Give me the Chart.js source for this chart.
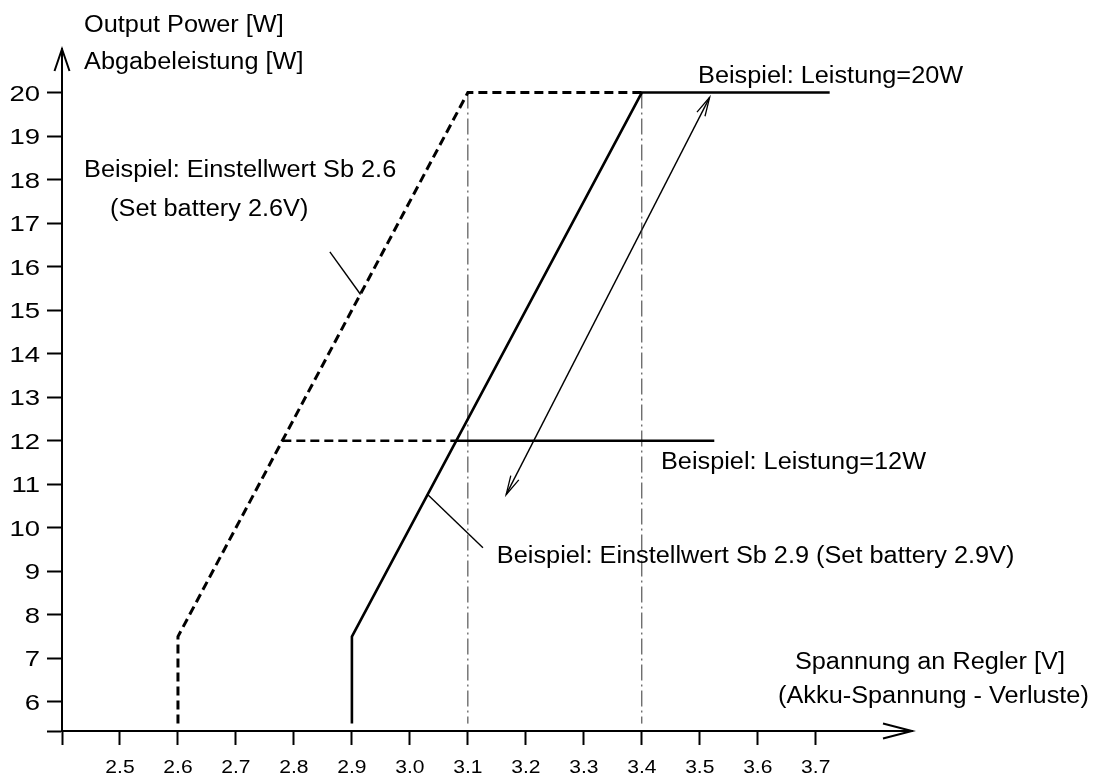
<!DOCTYPE html>
<html>
<head>
<meta charset="utf-8">
<script src="https://cdn.jsdelivr.net/npm/chart.js@4.4.1/dist/chart.umd.min.js"></script>
<style>
  html, body { margin: 0; padding: 0; background: #fff; }
  #wrap { width: 1101px; height: 776px; }
</style>
</head>
<body>
<div id="wrap"><canvas id="chart" width="1101" height="776"></canvas></div>
<script>
// axis ranges: voltage [V] and power [W]
const xMin = 2.4, xMax = 3.866;
const yMin = 5.33, yMax = 21.0;

const xTickValues = [2.5, 2.6, 2.7, 2.8, 2.9, 3.0, 3.1, 3.2, 3.3, 3.4, 3.5, 3.6, 3.7];
const xTickLabels = ["2.5", "2.6", "2.7", "2.8", "2.9", "3.0", "3.1", "3.2", "3.3", "3.4", "3.5", "3.6", "3.7"];
const yTickValues = [6, 7, 8, 9, 10, 11, 12, 13, 14, 15, 16, 17, 18, 19, 20];
const yTickLabels = ["6", "7", "8", "9", "10", "11", "12", "13", "14", "15", "16", "17", "18", "19", "20"];

// curve for setting Sb 2.6 (dashed)
const sb26Volt = [2.6, 2.6, 3.1, 3.4];
const sb26Watt = [5.5, 7.5, 20, 20];
// curve for setting Sb 2.9 (solid)
const sb29Volt = [2.9, 2.9, 3.4, 3.724];
const sb29Watt = [5.5, 7.5, 20, 20];
// example 12 W
const p12DashVolt = [2.78, 3.08];
const p12SolidVolt = [3.08, 3.525];
const p12Watt = [12, 12];
// dash-dot guides at 3.1 V and 3.4 V
const guideAVolt = [3.1, 3.1];
const guideBVolt = [3.4, 3.4];
const guideWatt = [20, 5.5];
// double arrow
const arrowVolt = [3.166, 3.517];
const arrowWatt = [10.76, 19.89];
// leader lines to the labels
const lead26Volt = [2.862, 2.915];
const lead26Watt = [16.34, 15.36];
const lead29Volt = [3.031, 3.126];
const lead29Watt = [10.76, 9.54];

// text notes, anchored in data units (left edge, baseline)
const notes = [
  ["Output Power [W]", 2.438, 21.38],
  ["Abgabeleistung [W]", 2.438, 20.53],
  ["Beispiel: Einstellwert Sb 2.6", 2.438, 18.05],
  ["(Set battery 2.6V)", 2.483, 17.17],
  ["Beispiel: Leistung=20W", 3.497, 20.23],
  ["Beispiel: Leistung=12W", 3.433, 11.36],
  ["Beispiel: Einstellwert Sb 2.9 (Set battery 2.9V)", 3.15, 9.2],
  ["Spannung an Regler [V]", 3.664, 6.76],
  ["(Akku-Spannung - Verluste)", 3.635, 5.98],
];

const pts = (xs, ys) => xs.map((v, i) => ({ x: v, y: ys[i] }));

function line(data, width, dash, color) {
  return {
    data,
    showLine: true,
    borderColor: color || "#000",
    borderWidth: width,
    borderDash: dash || [],
    pointRadius: 0,
    tension: 0,
    fill: false,
  };
}

function stretchText(ctx, s, px, py, size, sx, align) {
  ctx.save();
  ctx.translate(px, py);
  ctx.scale(sx, 1);
  ctx.font = size + "px 'Liberation Sans', Arial, sans-serif";
  ctx.textAlign = align || "left";
  ctx.textBaseline = "alphabetic";
  ctx.fillText(s, 0, 0);
  ctx.restore();
}

function arrowHead(ctx, tip, from, len, half) {
  const ang = Math.atan2(tip.y - from.y, tip.x - from.x);
  const bx = tip.x - len * Math.cos(ang), by = tip.y - len * Math.sin(ang);
  const nx = -Math.sin(ang) * half, ny = Math.cos(ang) * half;
  ctx.beginPath();
  ctx.moveTo(bx + nx, by + ny);
  ctx.lineTo(tip.x, tip.y);
  ctx.lineTo(bx - nx, by - ny);
  ctx.stroke();
}

const decor = {
  id: "decor",
  afterDraw(chart) {
    const { ctx, chartArea: a } = chart;
    const x = chart.scales.x, y = chart.scales.y;
    ctx.save();
    ctx.strokeStyle = "#000";
    ctx.fillStyle = "#000";

    // axis arrows
    ctx.lineWidth = 2;
    arrowHead(ctx, { x: a.left, y: a.top }, { x: a.left, y: a.bottom }, 22, 7.5);
    arrowHead(ctx, { x: a.right, y: a.bottom }, { x: a.left, y: a.bottom }, 29, 7.5);

    // double arrow heads
    ctx.lineWidth = 1.3;
    const p0 = { x: x.getPixelForValue(arrowVolt[0]), y: y.getPixelForValue(arrowWatt[0]) };
    const p1 = { x: x.getPixelForValue(arrowVolt[1]), y: y.getPixelForValue(arrowWatt[1]) };
    arrowHead(ctx, p0, p1, 19, 4.5);
    arrowHead(ctx, p1, p0, 19, 4.5);

    // tick labels
    yTickValues.forEach((v, i) => {
      stretchText(ctx, yTickLabels[i], a.left - 22, y.getPixelForValue(v) + 8, 22, 1.25, "right");
    });
    xTickValues.forEach((v, i) => {
      stretchText(ctx, xTickLabels[i], x.getPixelForValue(v), a.bottom + 42, 18, 1.17, "center");
    });

    // notes
    notes.forEach(([s, vx, vy]) => {
      stretchText(ctx, s, x.getPixelForValue(vx), y.getPixelForValue(vy), 23, 1.1, "left");
    });
    ctx.restore();
  },
};

new Chart(document.getElementById("chart"), {
  type: "scatter",
  data: {
    datasets: [
      line(pts(sb26Volt, sb26Watt), 3, [9, 5]),
      line(pts(p12DashVolt, p12Watt), 2.5, [9, 5]),
      line(pts(sb29Volt, sb29Watt), 2.6),
      line(pts(p12SolidVolt, p12Watt), 2.4),
      line(pts(guideAVolt, guideWatt), 1, [16, 4, 2, 4], "#333"),
      line(pts(guideBVolt, guideWatt), 1, [16, 4, 2, 4], "#333"),
      line(pts(arrowVolt, arrowWatt), 1.4),
      line(pts(lead26Volt, lead26Watt), 1.4),
      line(pts(lead29Volt, lead29Watt), 1.4),
    ],
  },
  options: {
    responsive: false,
    animation: false,
    events: [],
    layout: { padding: { left: 0, right: 189, top: 49, bottom: 0 } },
    plugins: { legend: { display: false }, tooltip: { enabled: false } },
    scales: {
      x: {
        type: "linear",
        min: xMin,
        max: xMax,
        afterBuildTicks: (s) => { s.ticks = [xMin, ...xTickValues].map((v) => ({ value: v })); },
        afterFit: (s) => { s.height = 45; },
        grid: { drawOnChartArea: false, drawTicks: true, tickLength: 14, tickWidth: 2, tickColor: "#000" },
        border: { display: true, color: "#000", width: 2 },
        ticks: { display: false },
      },
      y: {
        type: "linear",
        min: yMin,
        max: yMax,
        afterBuildTicks: (s) => { s.ticks = [yMin, ...yTickValues].map((v) => ({ value: v })); },
        afterFit: (s) => { s.width = 62; },
        grid: { drawOnChartArea: false, drawTicks: true, tickLength: 15, tickWidth: 2, tickColor: "#000" },
        border: { display: true, color: "#000", width: 2 },
        ticks: { display: false },
      },
    },
  },
  plugins: [decor],
});
</script>
</body>
</html>
